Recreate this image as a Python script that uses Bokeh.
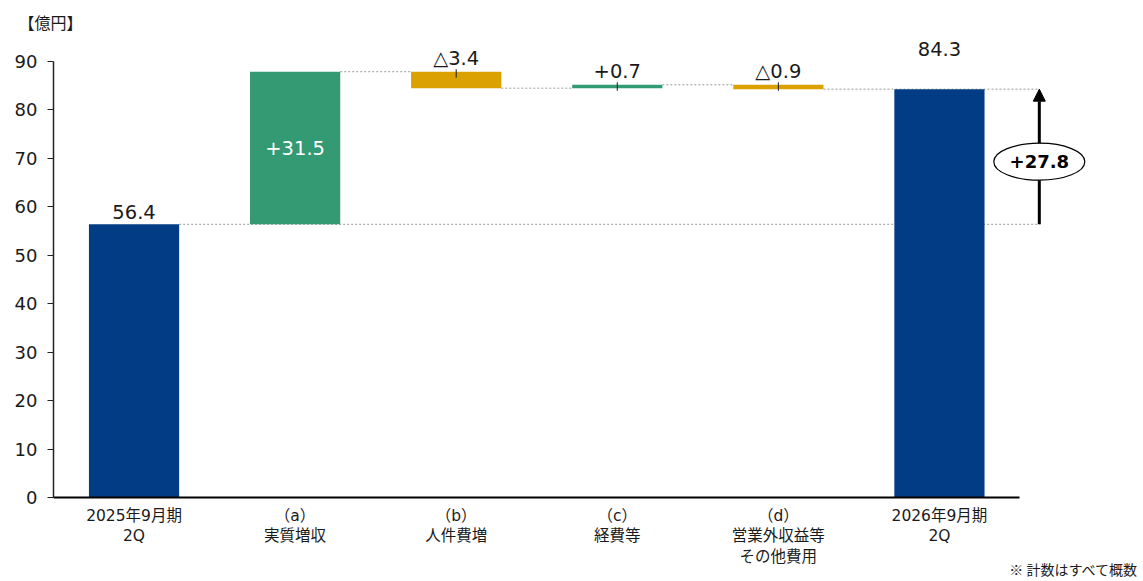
from bokeh.plotting import figure
from bokeh.models import (ColumnDataSource, Range1d, FixedTicker, LabelSet, Label,
                          Arrow, NormalHead)
from bokeh.embed import file_html
from bokeh.resources import INLINE
from bokeh.core.properties import value

# ---------------- data ----------------
categories = ["2025年9月期\n2Q", "（a）\n実質増収", "（b）\n人件費増", "（c）\n経費等",
              "（d）\n営業外収益等\nその他費用", "2026年9月期\n2Q"]
start_value = 56.4
deltas = [31.5, -3.4, 0.7, -0.9]
end_value = 84.3
bar_labels = ["56.4", "+31.5", "△3.4", "+0.7", "△0.9", "84.3"]
diff_label = "+27.8"
y_ticks = [0, 10, 20, 30, 40, 50, 60, 70, 80, 90]
unit_label = "【億円】"
footnote = "※ 計数はすべて概数"

# ---------------- styles / layout ----------------
BLUE = "#023C84"
GREEN = "#339A73"
GOLD = "#DBA100"
TXT = "#1A1A1A"
FONT = "DejaVu Sans, Noto Sans CJK JP"
CJK = "Noto Sans CJK JP"
BAR_W = 0.56
W, H = 1140, 578                 # figure = plot frame (no borders)
AX_LEFT_PX = 53                  # y-axis position from the figure's left edge
AX_BOTTOM_PX = 497               # x-axis position from the figure's top edge
PX_X = 161.08                    # pixels per category
PX_Y = 4.844                     # pixels per y unit
ARROW_X = 5.62

X_START = -0.5 - AX_LEFT_PX / PX_X
X_END = -0.5 + (W - AX_LEFT_PX) / PX_X
Y_END = AX_BOTTOM_PX / PX_Y
Y_START = -(H - AX_BOTTOM_PX) / PX_Y

# ---------------- derived ----------------
levels = [start_value]
for d in deltas:
    levels.append(round(levels[-1] + d, 4))
n = len(categories)
xs = list(range(n))
bottoms = [0] + [min(levels[i], levels[i + 1]) for i in range(len(deltas))] + [0]
tops = [start_value] + [max(levels[i], levels[i + 1]) for i in range(len(deltas))] + [end_value]
colors = [BLUE] + [GREEN if d > 0 else GOLD for d in deltas] + [BLUE]

src = ColumnDataSource(dict(x=xs, bottom=bottoms, top=tops, color=colors))

p = figure(width=W, height=H, output_backend="svg", toolbar_location=None,
           x_range=Range1d(X_START, X_END), y_range=Range1d(Y_START, Y_END),
           min_border_left=0, min_border_right=0, min_border_top=0, min_border_bottom=0)
p.outline_line_color = None
p.grid.visible = False
p.background_fill_color = "white"
p.border_fill_color = "white"

# connector dashed lines (behind bars)
cx0 = [xs[0] + BAR_W / 2] + [xs[i] + BAR_W / 2 for i in range(1, len(deltas))] + [xs[len(deltas)] + BAR_W / 2]
cx1 = [ARROW_X] + [xs[i + 1] - BAR_W / 2 for i in range(1, len(deltas))] + [ARROW_X]
cy = [levels[0]] + [levels[i] for i in range(1, len(deltas))] + [end_value]
p.segment(x0=cx0, y0=cy, x1=cx1, y1=cy, line_color="#9A9A9A", line_width=1, line_dash="2 2")

p.vbar(x="x", width=BAR_W, bottom="bottom", top="top", fill_color="color",
       line_color=None, source=src)

# small leader ticks for the thin change bars
lead_x = [xs[i + 1] for i in range(1, len(deltas))]
lead_top = [tops[i + 1] for i in range(1, len(deltas))]
p.segment(x0=lead_x, y0=[t + 2.5 / PX_Y for t in lead_top], x1=lead_x,
          y1=[t - 6 / PX_Y for t in lead_top], line_color=TXT, line_width=1)

# value labels
out_idx = [0, 2, 3, 4, 5]
out_off = {0: 5, 2: 7, 3: 7, 4: 7, 5: 33}
lab_src = ColumnDataSource(dict(
    x=[xs[i] for i in out_idx], y=[tops[i] for i in out_idx],
    off=[out_off[i] for i in out_idx], text=[bar_labels[i] for i in out_idx]))
p.add_layout(LabelSet(x="x", y="y", y_offset="off", text="text", source=lab_src,
                      text_align="center", text_baseline="alphabetic", text_color=TXT,
                      text_font=value(FONT), text_font_size="19.5px"))
in_src = ColumnDataSource(dict(x=[xs[1]], y=[(bottoms[1] + tops[1]) / 2], text=[bar_labels[1]]))
p.add_layout(LabelSet(x="x", y="y", text="text", source=in_src, text_align="center",
                      text_baseline="middle", text_color="white",
                      text_font=value(FONT), text_font_size="19.5px"))

# difference arrow
p.add_layout(Arrow(end=NormalHead(size=12, fill_color="black", line_color="black"),
                   x_start=ARROW_X, y_start=start_value, x_end=ARROW_X, y_end=end_value,
                   line_width=3, line_color="black"))
mid = (start_value + end_value) / 2 - 5 / PX_Y
ell = p.ellipse(x=[ARROW_X], y=[mid], width=91, height=37, width_units="screen",
                height_units="screen", fill_color="white", line_color="black", line_width=1.2)
ell.level = "overlay"
tx = p.text(x=[ARROW_X], y=[mid], text=[diff_label], text_align="center",
            text_baseline="middle", text_font=value(FONT), text_font_size="18px",
            text_font_style="bold", text_color="black")
tx.level = "overlay"

# axes (fixed inside the frame so that all texts share one canvas)
p.xaxis.fixed_location = 0
p.yaxis.fixed_location = -0.5
p.xaxis.ticker = FixedTicker(ticks=xs)
p.xaxis.major_label_overrides = {i: c for i, c in zip(xs, categories)}
p.xaxis.bounds = (-0.5, xs[-1] + 0.5)
p.xaxis.axis_line_width = 2
p.xaxis.axis_line_color = "black"
p.xaxis.major_tick_line_color = None
p.xaxis.minor_tick_line_color = None
p.xaxis.major_label_standoff = 3
p.xaxis.major_label_text_font = FONT
p.xaxis.major_label_text_font_size = "15.5px"
p.xaxis.major_label_text_color = TXT
p.xaxis.major_label_text_line_height = 1.15

p.yaxis.ticker = FixedTicker(ticks=y_ticks)
p.yaxis.bounds = (y_ticks[0], y_ticks[-1])
p.yaxis.axis_line_width = 1.5
p.yaxis.axis_line_color = "#222222"
p.yaxis.major_tick_line_color = "#222222"
p.yaxis.major_tick_line_width = 1.2
p.yaxis.major_tick_out = 6
p.yaxis.major_tick_in = 0
p.yaxis.minor_tick_line_color = None
p.yaxis.major_label_standoff = 10
p.yaxis.major_label_text_font = FONT
p.yaxis.major_label_text_font_size = "18px"
p.yaxis.major_label_text_color = TXT

# unit label and footnote
p.add_layout(Label(x=-0.5, x_offset=-35, y=Y_END, y_offset=-33, text=unit_label,
                   text_align="left", text_baseline="bottom", text_font=CJK,
                   text_font_size="16px", text_color=TXT))
p.add_layout(Label(x=X_END, x_offset=-2, y=Y_START, y_offset=0, text=footnote,
                   text_align="right", text_baseline="bottom", text_font=CJK,
                   text_font_size="14px", text_color=TXT))

open("out.html", "w").write(file_html(p, INLINE))
